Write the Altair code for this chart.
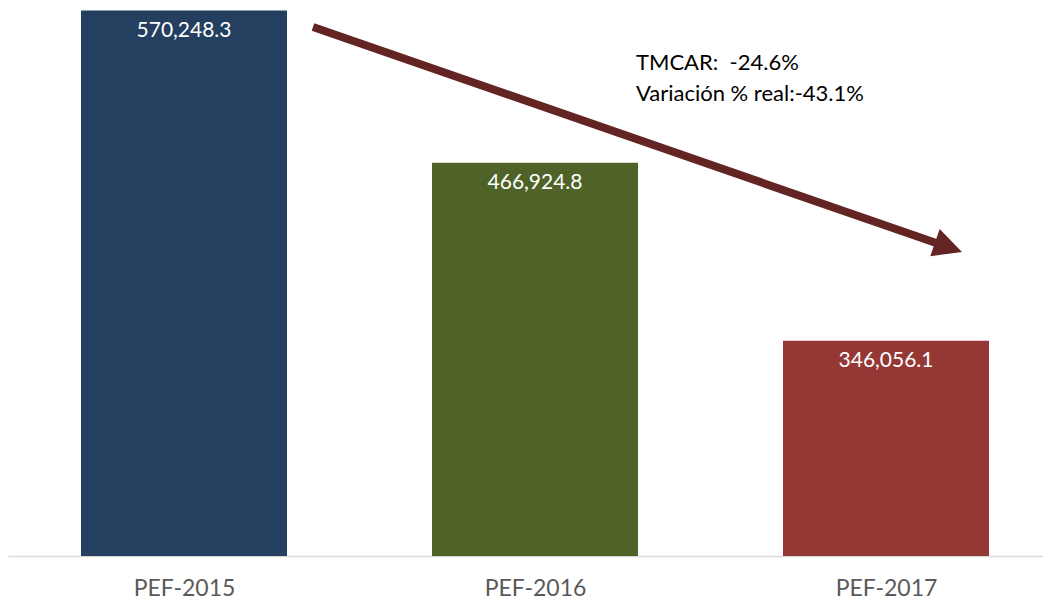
import altair as alt
import pandas as pd

# --- data ---
categories = ["PEF-2015", "PEF-2016", "PEF-2017"]
values = [570248.3, 466924.8, 346056.1]
labels = ["570,248.3", "466,924.8", "346,056.1"]
colors = ["#243F60", "#4F6228", "#953735"]
positions = [0, 1, 2]

# annotation (x in category-index units, y in data units)
arrow_x = [0.3675, 2.178]
arrow_y = [559100, 409550]
note_lines = ["TMCAR:\u00a0\u00a0-24.6%", "Variación % real:-43.1%"]
note_x = [1.2877, 1.2877]
note_y = [529900, 508870]

FONT = "Lato"
W, H = 1035, 548
Y_DOMAIN = [200000, 572000]
X_DOMAIN = [-176 / 351, (W - 176) / 351]
HALF = 103 / 351  # half bar width in category units

bars_df = pd.DataFrame({"pos": positions, "cat": categories, "val": values, "lab": labels})
arrow_df = pd.DataFrame({"u": arrow_x, "v": arrow_y})
head_df = pd.DataFrame({"u": [arrow_x[1]], "v": [arrow_y[1]]})
note_df = pd.DataFrame({"u": note_x, "v": note_y, "t": note_lines})

label_expr = "[" + ",".join("'%s'" % c for c in categories) + "][datum.value]"

xscale = alt.Scale(domain=X_DOMAIN, nice=False, zero=False)
xaxis = alt.Axis(
    title=None,
    values=positions,
    labelExpr=label_expr,
    labelAngle=0,
    ticks=False,
    tickSize=0,
    grid=False,
    domainColor="#d9d9d9",
    domainWidth=1.5,
    labelFont=FONT,
    labelFontSize=23,
    labelColor="#595959",
    labelPadding=21,
    labelFlush=False,
    labelOverlap=False,
)
yscale = alt.Scale(domain=Y_DOMAIN, zero=False, nice=False)

bars = (
    alt.Chart(bars_df)
    .transform_calculate(x0="datum.pos - %f" % HALF, x1="datum.pos + %f" % HALF)
    .mark_bar()
    .encode(
        x=alt.X("x0:Q", scale=xscale, axis=xaxis),
        x2="x1:Q",
        y=alt.Y("val:Q", scale=yscale, axis=None),
        y2=alt.datum(Y_DOMAIN[0]),
        color=alt.Color("cat:N", scale=alt.Scale(domain=categories, range=colors), legend=None),
    )
)

texts = alt.Chart(bars_df).mark_text(
    font=FONT, fontSize=21, color="white", baseline="alphabetic", dy=26
).encode(
    x=alt.X("pos:Q"),
    y=alt.Y("val:Q"),
    text="lab:N",
)

shaft = alt.Chart(arrow_df).mark_line(
    color="#632523", strokeWidth=8, strokeCap="butt"
).encode(
    x=alt.X("u:Q"),
    y=alt.Y("v:Q"),
)

head = alt.Chart(head_df).mark_point(
    shape="M-1,-1L1,0L-1,1Z", size=818, angle=19.1, filled=True, opacity=1, color="#632523"
).encode(
    x=alt.X("u:Q"),
    y=alt.Y("v:Q"),
)

note = alt.Chart(note_df).mark_text(
    font=FONT, fontSize=22, color="#000000", align="left", baseline="alphabetic"
).encode(
    x=alt.X("u:Q"),
    y=alt.Y("v:Q"),
    text="t:N",
)

chart = (
    alt.layer(bars, texts, shaft, head, note)
    .properties(
        width=W,
        height=H,
        autosize=alt.AutoSizeParams(type="none"),
        padding={"left": 0, "top": 0, "right": 0, "bottom": 43},
        background="white",
    )
    .configure_view(stroke=None)
)

chart.save("out.html", embed_options={"renderer": "svg", "actions": False})
